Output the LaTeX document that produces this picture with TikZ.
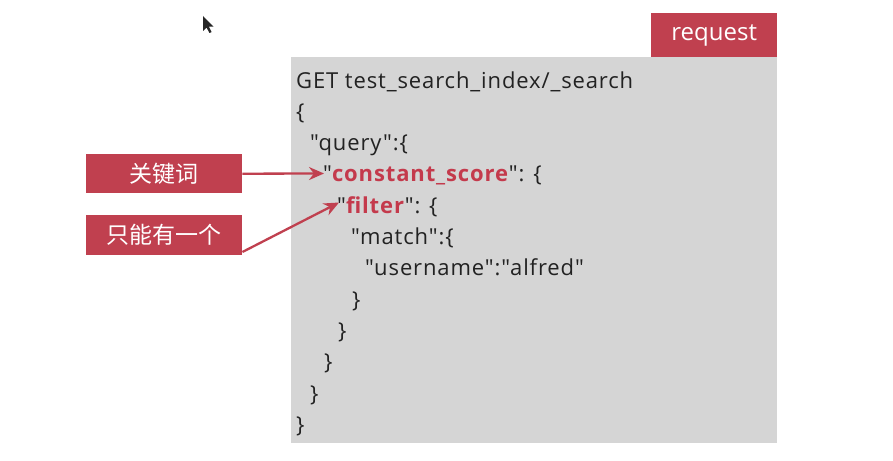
\documentclass[tikz,border=0pt]{standalone}
\usepackage{fontspec}
\setmainfont{Open Sans}
\newfontfamily\codefont[LetterSpace=4]{Open Sans}
\newfontfamily\cjk{Noto Sans CJK SC}
\usetikzlibrary{arrows.meta}
\definecolor{boxred}{HTML}{C0404F}
\definecolor{txtred}{HTML}{C43A4C}
\definecolor{panel}{HTML}{D5D5D5}
\definecolor{ink}{HTML}{222222}
\tikzset{
  redbox/.style={fill=boxred, draw=none, text=white, inner sep=0pt, anchor=north west},
  codeline/.style={anchor=base west, inner sep=0pt, text=ink, font=\codefont\fontsize{22}{26}\selectfont},
  callout/.style={draw=boxred, line width=2.3pt, -{Stealth[length=15pt,width=13pt]}}
}
\newcommand{\rk}[1]{\textcolor{txtred}{\textbf{#1}}}
\newcommand{\qq}{\char34\relax}
\begin{document}
\begin{tikzpicture}[x=1pt,y=-1pt]
\useasboundingbox (0,0) rectangle (893,460);
\fill[white] (0,0) rectangle (893,460);
% panel
\node[fill=panel, draw=none, inner sep=0pt, anchor=north west, minimum width=486pt, minimum height=386pt] (panel) at (291,57) {};
\node[redbox, minimum width=126pt, minimum height=44pt, font=\fontsize{24}{28}\selectfont] (req) at (651,13) {request};
% code lines
\node[codeline] (l0) at (296,88) {GET test\_search\_index/\_search};
\node[codeline] (l1) at (296,119.3) {\{};
\node[codeline] (l2) at (310,150.6) {\qq query\qq:\{};
\node[codeline] (l3) at (323,181.9) {\qq\rk{constant\_score}\qq: \{};
\node[codeline] (l4) at (337,213.2) {\qq\rk{filter}\qq: \{};
\node[codeline] (l5) at (351,244.5) {\qq match\qq:\{};
\node[codeline] (l6) at (365,275.8) {\qq username\qq:\qq alfred\qq};
\node[codeline] (l7) at (352,307.1) {\}};
\node[codeline] (l8) at (338,338.4) {\}};
\node[codeline] (l9) at (324,369.7) {\}};
\node[codeline] (l10) at (310,401) {\}};
\node[codeline] (l11) at (296,432.3) {\}};
% callout labels
\node[redbox, minimum width=156pt, minimum height=39pt, font=\cjk\fontsize{23}{26}\selectfont] (kwbox) at (86,154) {关键词};
\node[redbox, minimum width=156pt, minimum height=40pt, font=\cjk\fontsize{23}{26}\selectfont] (onebox) at (86,215) {只能有一个};
\coordinate (t1) at (324,173.5);
\coordinate (t2) at (339,202.5);
\coordinate (s2) at (kwbox.east |- 0,252);
\draw[callout] (kwbox.east) -- (t1);
\draw[callout] (s2) -- (t2);
% mouse cursor
\fill[black!85] (203,16) -- (203,31) -- (206.5,27.5) -- (209.5,33) -- (211.5,32) -- (208.8,26.6) -- (213.5,26.6) -- cycle;
\end{tikzpicture}
\end{document}
